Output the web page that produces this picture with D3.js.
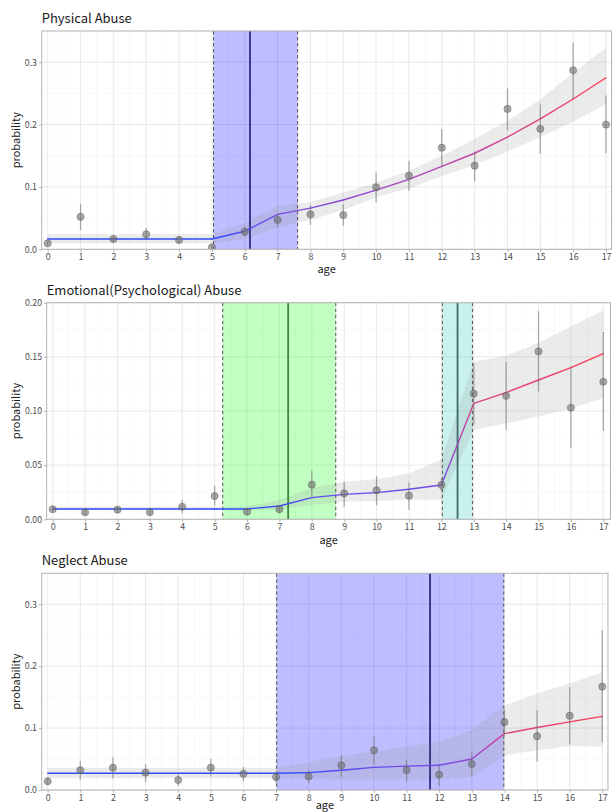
<!DOCTYPE html>
<html>
<head>
<meta charset="utf-8">
<script src="https://cdn.jsdelivr.net/npm/d3@7"></script>
<style>
  body { margin: 0; background: #fff; }
  svg { display: block; }
  text { font-family: "Noto Sans CJK JP", "Noto Sans", sans-serif; }
</style>
</head>
<body>
<div id="chart"></div>
<script>
// ---- data ----
const ages = [0, 1, 2, 3, 4, 5, 6, 7, 8, 9, 10, 11, 12, 13, 14, 15, 16, 17];

// physical abuse
const physObs = [0.0096, 0.052, 0.0165, 0.024, 0.015, 0.003, 0.028, 0.047, 0.056, 0.055, 0.0995, 0.118, 0.163, 0.134, 0.225, 0.193, 0.287, 0.2];
const physLo = [0.006, 0.031, 0.011, 0.015, 0.009, 0.0005, 0.021, 0.035, 0.039, 0.038, 0.075, 0.094, 0.133, 0.109, 0.191, 0.153, 0.241, 0.154];
const physHi = [0.013, 0.073, 0.022, 0.034, 0.021, 0.007, 0.036, 0.058, 0.071, 0.072, 0.123, 0.142, 0.193, 0.157, 0.258, 0.232, 0.331, 0.247];
const physFit = [0.0165, 0.0165, 0.0165, 0.0165, 0.0165, 0.0165, 0.029, 0.056, 0.066, 0.079, 0.095, 0.112, 0.133, 0.154, 0.18, 0.209, 0.241, 0.275];
const physFitLo = [0.0096, 0.0096, 0.0096, 0.0096, 0.0096, 0.0096, 0.016, 0.035, 0.047, 0.063, 0.083, 0.098, 0.117, 0.135, 0.157, 0.18, 0.205, 0.232];
const physFitHi = [0.024, 0.024, 0.024, 0.024, 0.024, 0.024, 0.042, 0.07, 0.076, 0.091, 0.107, 0.126, 0.15, 0.177, 0.206, 0.24, 0.283, 0.323];
const physBands = [[5.05, 6.16, 7.61]];

// emotional (psychological) abuse
const emoObs = [0.0092, 0.0065, 0.0089, 0.0065, 0.0116, 0.0215, 0.007, 0.0092, 0.032, 0.024, 0.0268, 0.0218, 0.0317, 0.116, 0.114, 0.155, 0.103, 0.127];
const emoLo = [0.0065, 0.004, 0.006, 0.004, 0.0055, 0.013, 0.004, 0.006, 0.021, 0.0116, 0.013, 0.0086, 0.026, 0.087, 0.0825, 0.118, 0.066, 0.0815];
const emoHi = [0.013, 0.0095, 0.012, 0.0095, 0.018, 0.031, 0.01, 0.013, 0.045, 0.0347, 0.04, 0.034, 0.038, 0.144, 0.1455, 0.192, 0.141, 0.173];
const emoFit = [0.0095, 0.0095, 0.0095, 0.0095, 0.0095, 0.0095, 0.0095, 0.0123, 0.02, 0.023, 0.0246, 0.0277, 0.0317, 0.107, 0.117, 0.1286, 0.14, 0.153];
const emoFitLo = [0.0085, 0.0085, 0.0085, 0.0085, 0.0085, 0.0085, 0.0078, 0.009, 0.0135, 0.0163, 0.017, 0.018, 0.018, 0.0825, 0.0886, 0.095, 0.102, 0.112];
const emoFitHi = [0.0115, 0.0115, 0.0115, 0.0115, 0.0115, 0.0115, 0.012, 0.018, 0.0286, 0.0347, 0.037, 0.0425, 0.055, 0.1455, 0.151, 0.163, 0.178, 0.193];
const emoBands = [[5.25, 7.27, 8.74], [12.03, 12.5, 12.96]];

// neglect
const negObs = [0.014, 0.032, 0.036, 0.028, 0.016, 0.036, 0.026, 0.021, 0.022, 0.04, 0.064, 0.032, 0.025, 0.042, 0.1095, 0.087, 0.12, 0.167];
const negLo = [0.008, 0.017, 0.019, 0.013, 0.007, 0.022, 0.014, 0.012, 0.0107, 0.021, 0.042, 0.013, 0.0064, 0.021, 0.088, 0.046, 0.074, 0.077];
const negHi = [0.02, 0.047, 0.053, 0.042, 0.025, 0.05, 0.037, 0.029, 0.032, 0.056, 0.087, 0.049, 0.04, 0.062, 0.13, 0.129, 0.166, 0.258];
const negFit = [0.027, 0.027, 0.027, 0.027, 0.027, 0.027, 0.027, 0.027, 0.028, 0.032, 0.0365, 0.0386, 0.04, 0.05, 0.091, 0.101, 0.11, 0.119];
const negFitLo = [0.019, 0.019, 0.019, 0.019, 0.019, 0.019, 0.019, 0.019, 0.018, 0.017, 0.017, 0.017, 0.017, 0.021, 0.056, 0.064, 0.071, 0.07];
const negFitHi = [0.036, 0.036, 0.036, 0.036, 0.036, 0.036, 0.036, 0.036, 0.045, 0.055, 0.062, 0.07, 0.078, 0.097, 0.137, 0.156, 0.172, 0.19];
const negBands = [[7.02, 11.72, 13.98]];

const yTicks35 = [0, 0.1, 0.2, 0.3];
const yTicks20 = [0, 0.05, 0.1, 0.15, 0.2];

const W = 613, H = 812;
const svg = d3.select("#chart").append("svg").attr("width", W).attr("height", H);
const defs = svg.append("defs");

const bandStyles = {
  blue: { fill: "#0000ff", op: 0.26, line: "#2c2c84" },
  green: { fill: "#00ff00", op: 0.24, line: "#3b873b" },
  cyan: { fill: "#1ec8b8", op: 0.24, line: "#3f6a6a" }
};

const panels = [
  { title: "Physical Abuse", left: 41.7, right: 611.5, top: 31, bottom: 249.3, x0: 47.7, x17: 606,
    yMax: 0.35, ticks: yTicks35, fmt: d3.format(".1f"), titleY: 22.7, ageY: 273,
    obs: physObs, lo: physLo, hi: physHi, fit: physFit, fitLo: physFitLo, fitHi: physFitHi,
    bands: physBands, bandKeys: ["blue"] },
  { title: "Emotional(Psychological) Abuse", left: 46.7, right: 610.5, top: 302.7, bottom: 519.3, x0: 52.7, x17: 603.3,
    yMax: 0.2, ticks: yTicks20, fmt: d3.format(".2f"), titleY: 295, ageY: 544,
    obs: emoObs, lo: emoLo, hi: emoHi, fit: emoFit, fitLo: emoFitLo, fitHi: emoFitHi,
    bands: emoBands, bandKeys: ["green", "cyan"] },
  { title: "Neglect Abuse", left: 41.7, right: 608, top: 573.3, bottom: 790, x0: 47.7, x17: 602.3,
    yMax: 0.35, ticks: yTicks35, fmt: d3.format(".1f"), titleY: 565, ageY: 808.5,
    obs: negObs, lo: negLo, hi: negHi, fit: negFit, fitLo: negFitLo, fitHi: negFitHi,
    bands: negBands, bandKeys: ["blue"] }
];

panels.forEach((p, pi) => {
  const x = d3.scaleLinear().domain([0, 17]).range([p.x0, p.x17]);
  const y = d3.scaleLinear().domain([0, p.yMax]).range([p.bottom, p.top]);
  const g = svg.append("g");

  const clipId = "clip" + pi;
  defs.append("clipPath").attr("id", clipId).append("rect")
    .attr("x", p.left).attr("y", p.top)
    .attr("width", p.right - p.left).attr("height", p.bottom - p.top);

  // grid
  const step = p.ticks[1] - p.ticks[0];
  const minorY = d3.range(step / 2, p.yMax + 1e-9, step);
  const minorX = d3.range(0.5, 17, 1);
  const grid = g.append("g");
  grid.selectAll(".mx").data(minorX).join("line")
    .attr("x1", d => x(d)).attr("x2", d => x(d)).attr("y1", p.top).attr("y2", p.bottom)
    .attr("stroke", "#f0f0f0").attr("stroke-width", 0.5);
  grid.selectAll(".my").data(minorY).join("line")
    .attr("x1", p.left).attr("x2", p.right).attr("y1", d => y(d)).attr("y2", d => y(d))
    .attr("stroke", "#f0f0f0").attr("stroke-width", 0.5);
  grid.selectAll(".gx").data(ages).join("line")
    .attr("x1", d => x(d)).attr("x2", d => x(d)).attr("y1", p.top).attr("y2", p.bottom)
    .attr("stroke", "#e3e3e3").attr("stroke-width", 0.8);
  grid.selectAll(".gy").data(p.ticks).join("line")
    .attr("x1", p.left).attr("x2", p.right).attr("y1", d => y(d)).attr("y2", d => y(d))
    .attr("stroke", "#e3e3e3").attr("stroke-width", 0.8);

  const plot = g.append("g").attr("clip-path", `url(#${clipId})`);

  // changepoint shading
  p.bands.forEach((b, bi) => {
    const st = bandStyles[p.bandKeys[bi]];
    plot.append("rect")
      .attr("x", x(b[0])).attr("y", p.top)
      .attr("width", x(b[2]) - x(b[0])).attr("height", p.bottom - p.top)
      .attr("fill", st.fill).attr("fill-opacity", st.op);
  });

  // confidence ribbon
  const area = d3.area()
    .x((d, i) => x(ages[i]))
    .y0((d, i) => y(p.fitLo[i]))
    .y1((d, i) => y(p.fitHi[i]));
  plot.append("path").datum(p.fit).attr("d", area)
    .attr("fill", "#999").attr("fill-opacity", 0.2);

  // changepoint lines
  p.bands.forEach((b, bi) => {
    const st = bandStyles[p.bandKeys[bi]];
    [b[0], b[2]].forEach(v => {
      plot.append("line")
        .attr("x1", x(v)).attr("x2", x(v)).attr("y1", p.top).attr("y2", p.bottom)
        .attr("stroke", "#555").attr("stroke-width", 1).attr("stroke-dasharray", "3.5,2.5");
    });
    plot.append("line")
      .attr("x1", x(b[1])).attr("x2", x(b[1])).attr("y1", p.top).attr("y2", p.bottom)
      .attr("stroke", st.line).attr("stroke-width", 1.8);
  });

  // fitted line, colour by fitted value (blue -> red)
  const col = d3.scaleLinear().domain(d3.extent(p.fit))
    .range(["#2f4cff", "#ff3a50"]).interpolate(d3.interpolateLab);
  for (let i = 0; i < ages.length - 1; i++) {
    const gid = `grad${pi}_${i}`;
    const lg = defs.append("linearGradient").attr("id", gid)
      .attr("gradientUnits", "userSpaceOnUse")
      .attr("x1", x(ages[i])).attr("x2", x(ages[i + 1])).attr("y1", 0).attr("y2", 0);
    lg.append("stop").attr("offset", 0).attr("stop-color", col(p.fit[i]));
    lg.append("stop").attr("offset", 1).attr("stop-color", col(p.fit[i + 1]));
    plot.append("line")
      .attr("x1", x(ages[i])).attr("y1", y(p.fit[i]))
      .attr("x2", x(ages[i + 1])).attr("y2", y(p.fit[i + 1]) + 0.001)
      .attr("stroke", `url(#${gid})`).attr("stroke-width", 1.4).attr("stroke-linecap", "round");
  }

  // error bars and points
  plot.selectAll(".err").data(ages).join("line")
    .attr("x1", d => x(d)).attr("x2", d => x(d))
    .attr("y1", (d, i) => y(p.lo[i])).attr("y2", (d, i) => y(p.hi[i]))
    .attr("stroke", "#777").attr("stroke-opacity", 0.6).attr("stroke-width", 1.3);
  plot.selectAll(".pt").data(ages).join("circle")
    .attr("cx", d => x(d)).attr("cy", (d, i) => y(p.obs[i])).attr("r", 3.6)
    .attr("fill", "#6e6e6e").attr("fill-opacity", 0.6)
    .attr("stroke", "#555").attr("stroke-opacity", 0.5).attr("stroke-width", 0.8);

  // panel border
  g.append("rect")
    .attr("x", p.left).attr("y", p.top)
    .attr("width", p.right - p.left).attr("height", p.bottom - p.top)
    .attr("fill", "none").attr("stroke", "#b3b3b3").attr("stroke-width", 1);

  // axes
  const xAxis = d3.axisBottom(x).tickValues(ages).tickSize(2.7).tickPadding(2).tickFormat(d3.format("d"));
  const yAxis = d3.axisLeft(y).tickValues(p.ticks).tickSize(2.7).tickPadding(2).tickFormat(p.fmt);
  const gx = g.append("g").attr("transform", `translate(0,${p.bottom})`).call(xAxis);
  const gy = g.append("g").attr("transform", `translate(${p.left},0)`).call(yAxis);
  [gx, gy].forEach(a => {
    a.select(".domain").remove();
    a.selectAll(".tick line").attr("stroke", "#b3b3b3");
    a.selectAll(".tick text").attr("fill", "#4d4d4d").style("font-size", "8.8px")
      .style("font-family", "'Noto Sans CJK JP', 'Noto Sans', sans-serif");
  });

  // titles
  g.append("text").attr("x", p.left).attr("y", p.titleY)
    .style("font-size", "13px").attr("fill", "#1a1a1a").text(p.title);
  g.append("text").attr("x", (p.left + p.right) / 2).attr("y", p.ageY)
    .attr("text-anchor", "middle").style("font-size", "11px").attr("fill", "#1a1a1a").text("age");
  g.append("text")
    .attr("transform", `translate(20,${(p.top + p.bottom) / 2}) rotate(-90)`)
    .attr("text-anchor", "middle").style("font-size", "11px").attr("fill", "#1a1a1a").text("probability");
});
</script>
</body>
</html>
